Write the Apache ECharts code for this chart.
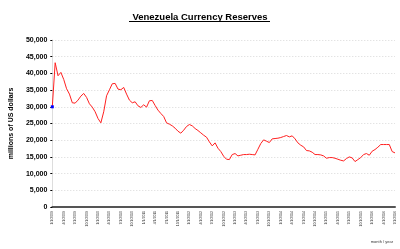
<!DOCTYPE html>
<html><head><meta charset="utf-8">
<script src="https://cdn.jsdelivr.net/npm/echarts@6/dist/echarts.min.js"></script>
<style>html,body{margin:0;padding:0;background:#fff}#c{width:400px;height:249px}</style>
</head><body><div id="c"></div>
<script>
var titleText = 'Venezuela Currency Reserves';
var yAxisName = 'millions of US dollars';
var xAxisName = 'month / year';
var tickLabels = ['1/1/2009','4/1/2009','7/1/2009','10/1/2009','1/1/2010','4/1/2010','7/1/2010','10/1/2010',
  '1/1/2011','4/1/2011','7/1/2011','10/1/2011','1/1/2012','4/1/2012','7/1/2012','10/1/2012',
  '1/1/2013','4/1/2013','7/1/2013','10/1/2013','1/1/2014','4/1/2014','7/1/2014','10/1/2014',
  '1/1/2015','4/1/2015','7/1/2015','10/1/2015','1/1/2016','4/1/2016','7/1/2016'];
var stepsPerTick = 4;
var reserves = [30000,43200,39300,40300,38200,35400,33800,31200,31100,32000,
  33200,34000,32800,30900,29900,28500,26500,25200,28500,33300,
  35100,36900,37000,35300,35100,35800,33800,32000,31200,31500,
  30300,29800,30600,29900,31800,31900,30400,29000,28000,27100,
  25200,24800,24300,23600,22700,22100,23000,24100,24700,24300,
  23500,22900,22200,21500,20900,19500,18300,19200,17600,16600,
  15200,14300,14200,15700,16000,15300,15500,15700,15700,15800,
  15700,15600,17300,19000,20100,19700,19300,20400,20500,20600,
  20800,21100,21400,21000,21300,20400,19200,18500,18000,16900,
  16800,16400,15700,15700,15600,15300,14600,14800,14800,14600,
  14300,14000,13800,14500,15000,14700,13600,14200,14800,15700,
  16000,15500,16700,17200,17900,18700,18700,18700,18700,16600,16200];

var seriesData = reserves.map(function(v, i){
  var item = {value: [i / stepsPerTick, v]};
  if (i === 0) { item.symbol = 'rect'; item.symbolSize = 3; item.itemStyle = {color: '#0000ff'}; }
  return item;
});

var font = '"Liberation Sans", Arial, sans-serif';
var chart = echarts.init(document.getElementById('c'), null, {renderer: 'canvas'});
chart.setOption({
  animation: false,
  backgroundColor: '#ffffff',
  title: {
    text: titleText, left: 'center', top: 7,
    textStyle: {fontFamily: font, fontSize: 9.5, fontWeight: 'bold', color: '#000'}
  },
  graphic: [{type: 'rect', shape: {x: 129, y: 21, width: 141, height: 1}, style: {fill: '#000'}}],
  grid: {left: 45, right: 5, top: 40, bottom: 42},
  xAxis: {
    type: 'value', min: 0, max: tickLabels.length - 1, interval: 1,
    name: xAxisName, nameLocation: 'end', nameGap: -2,
    nameTextStyle: {fontFamily: font, fontSize: 4, color: '#333', align: 'right', verticalAlign: 'top', padding: [33, 0, 0, 0]},
    axisLine: {show: true, lineStyle: {color: '#555', width: 2}},
    axisTick: {show: false},
    splitLine: {show: false},
    axisLabel: {
      rotate: 90, fontSize: 3.5, fontFamily: font, color: '#333', margin: 4,
      showMinLabel: true, showMaxLabel: true,
      formatter: function(v){ return tickLabels[Math.round(v)] || ''; }
    }
  },
  yAxis: {
    type: 'value', min: 0, max: 50000, interval: 5000,
    name: yAxisName, nameLocation: 'middle', nameGap: 34,
    nameTextStyle: {fontFamily: font, fontSize: 7, fontWeight: 'bold', color: '#000'},
    axisLine: {show: true, lineStyle: {color: '#dddddd', width: 1}},
    axisTick: {show: true, length: 2, lineStyle: {color: '#000'}},
    splitLine: {show: true, lineStyle: {color: '#d8d8d8', type: [1, 2], width: 1}},
    axisLabel: {
      fontFamily: font, fontSize: 7, fontWeight: 'bold', color: '#000', margin: 5,
      formatter: function(v){ return v.toLocaleString('en-US'); }
    }
  },
  series: [{
    type: 'line', data: seriesData, symbol: 'none', showSymbol: true,
    lineStyle: {color: '#ff2020', width: 1}, itemStyle: {color: '#ff2020'}
  }]
});
</script></body></html>
